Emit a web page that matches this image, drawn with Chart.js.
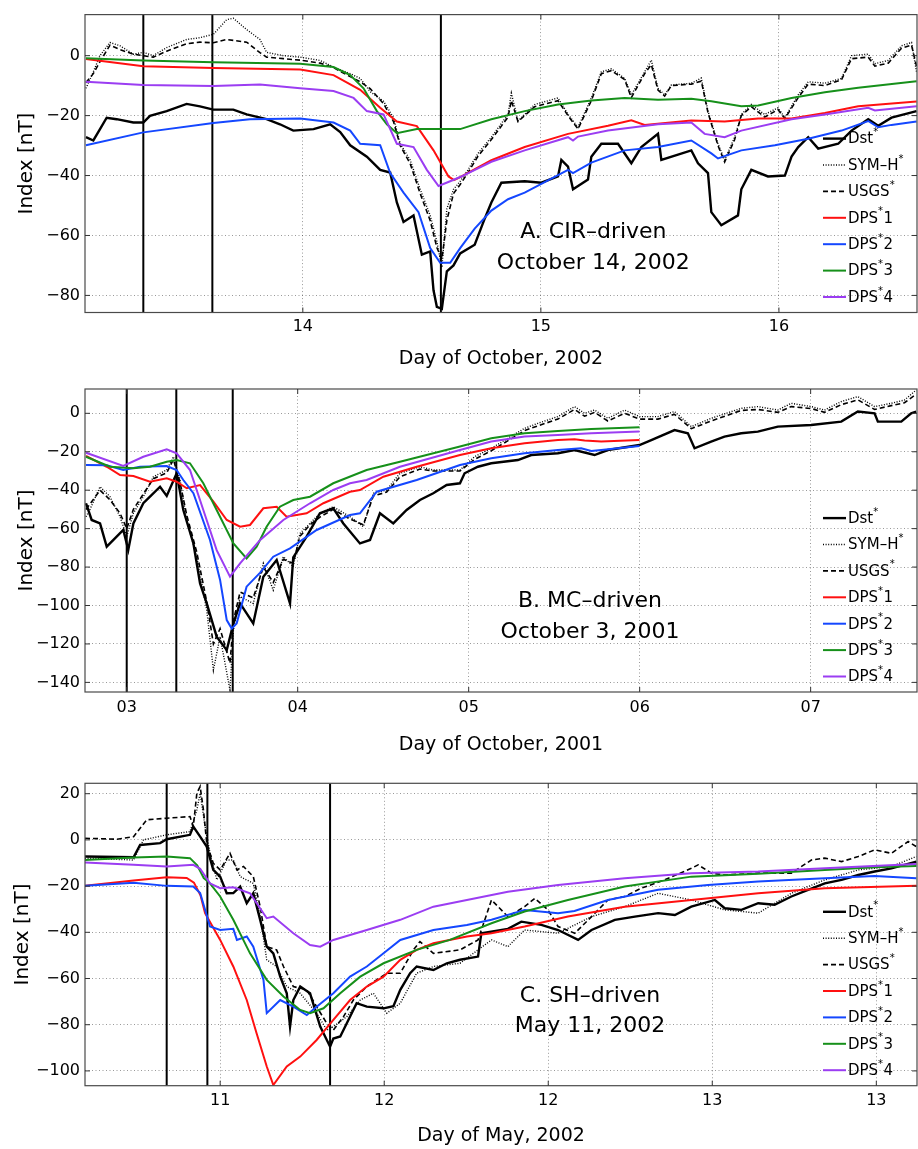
<!DOCTYPE html>
<html>
<head>
<meta charset="utf-8">
<script src="https://cdn.jsdelivr.net/npm/chart.js@4.4.1/dist/chart.umd.min.js"></script>
<style>
  html, body { margin: 0; padding: 0; background: #fff; }
  #wrap { position: relative; width: 918px; height: 1149px; }
  canvas { position: absolute; left: 0; }
</style>
</head>
<body>
<div id="wrap">
  <canvas id="panelA" width="918" height="370" style="top:0px"></canvas>
  <canvas id="panelB" width="918" height="390" style="top:370px"></canvas>
  <canvas id="panelC" width="918" height="389" style="top:760px"></canvas>
</div>
<script>
// ---- Series names (legend order) ----
const seriesNames = ['Dst*', 'SYM–H*', 'USGS*', 'DPS*1', 'DPS*2', 'DPS*3', 'DPS*4'];

// ---- Panel A: CIR-driven storm, October 14, 2002 ([day, nT]) ----
const dstA = [[13.089,-27.2],[13.12,-28.3],[13.148,-24.5],[13.176,-20.7],[13.218,-21.2],[13.288,-22.3],[13.33,-22.3],[13.358,-20.1],[13.428,-18.5],[13.512,-16.1],[13.568,-16.9],[13.624,-18],[13.708,-18],[13.764,-19.6],[13.848,-21.2],[13.904,-22.9],[13.96,-25],[14.045,-24.5],[14.115,-22.9],[14.157,-25.5],[14.199,-29.9],[14.269,-33.7],[14.325,-38.1],[14.367,-39],[14.395,-49],[14.423,-55.5],[14.465,-53.3],[14.5,-66.4],[14.535,-65.3],[14.549,-78.3],[14.563,-83.8],[14.584,-84.5],[14.605,-72],[14.633,-70],[14.661,-66],[14.722,-63.1],[14.764,-54.4],[14.792,-49],[14.834,-42.4],[14.932,-41.9],[15.002,-42.4],[15.072,-40.3],[15.086,-34.8],[15.114,-37],[15.135,-44.6],[15.198,-41.3],[15.212,-33.7],[15.254,-29.4],[15.324,-29.4],[15.38,-35.9],[15.422,-30.5],[15.492,-26.1],[15.506,-34.8],[15.632,-31.6],[15.66,-35.9],[15.702,-39.2],[15.716,-52.2],[15.758,-56.6],[15.828,-53.3],[15.842,-44.6],[15.884,-38.1],[15.954,-40.3],[16.025,-40],[16.053,-33.7],[16.081,-30.5],[16.123,-27.2],[16.165,-31],[16.249,-29.4],[16.305,-25],[16.375,-21.2],[16.417,-23.4],[16.473,-20.7],[16.578,-18.5]];
const symhA = [[13.089,-10.9],[13.12,-5.4],[13.148,0],[13.19,4.4],[13.232,3.3],[13.288,0.5],[13.33,1.1],[13.372,0],[13.428,2.7],[13.512,5.4],[13.568,6],[13.624,7.1],[13.68,12],[13.708,12.5],[13.764,8.7],[13.82,5.4],[13.848,1.1],[13.918,0],[13.989,-0.5],[14.073,-1.6],[14.129,-3.8],[14.199,-6],[14.241,-7.6],[14.283,-12],[14.339,-15.2],[14.381,-20.7],[14.409,-29.4],[14.451,-34.8],[14.493,-44.6],[14.535,-53.3],[14.563,-62],[14.584,-70.7],[14.605,-51.1],[14.633,-44.6],[14.661,-41.9],[14.694,-38.1],[14.736,-32.6],[14.792,-27.2],[14.862,-19.6],[14.876,-12.5],[14.904,-21.8],[14.974,-16.3],[15.072,-14.1],[15.114,-19.6],[15.156,-23.9],[15.212,-14.1],[15.254,-5.4],[15.296,-4.4],[15.352,-7.6],[15.38,-13.1],[15.436,-5.4],[15.464,-1.5],[15.492,-10.9],[15.52,-13.1],[15.548,-9.8],[15.632,-9.2],[15.674,-7.5],[15.702,-18.5],[15.744,-29.4],[15.772,-34.8],[15.814,-27.2],[15.842,-19.6],[15.884,-16.3],[15.94,-19.6],[15.996,-17.4],[16.025,-20.7],[16.081,-13.1],[16.123,-8.7],[16.193,-9.2],[16.263,-7.6],[16.305,0],[16.375,0.5],[16.403,-2.7],[16.459,-1.6],[16.515,3.3],[16.557,4.4],[16.578,-5.4]];
const usgsA = [[13.089,-9],[13.12,-6],[13.148,-2],[13.19,3.5],[13.232,2],[13.288,0.5],[13.33,0],[13.372,-0.5],[13.428,1.5],[13.512,4],[13.568,4.5],[13.624,4.3],[13.68,5.4],[13.764,4.5],[13.82,1],[13.848,-0.5],[13.918,-1],[13.989,-1.5],[14.073,-2.5],[14.129,-4],[14.199,-7],[14.241,-8.7],[14.283,-11],[14.339,-16],[14.381,-22],[14.409,-30],[14.451,-36],[14.493,-46],[14.535,-55],[14.563,-64],[14.584,-68],[14.605,-55],[14.633,-46],[14.661,-43],[14.694,-39],[14.736,-33.5],[14.792,-28],[14.862,-20.5],[14.876,-15],[14.904,-22],[14.974,-17],[15.072,-15],[15.114,-20],[15.156,-24.5],[15.212,-15],[15.254,-6],[15.296,-5],[15.352,-8],[15.38,-14],[15.436,-6],[15.464,-3],[15.492,-11.5],[15.52,-13.5],[15.548,-10],[15.632,-9.5],[15.674,-8.5],[15.702,-19],[15.744,-30],[15.772,-35.5],[15.814,-28],[15.842,-20],[15.884,-17],[15.94,-20.5],[15.996,-18],[16.025,-21],[16.081,-14],[16.123,-9.5],[16.193,-10],[16.263,-8],[16.305,-1],[16.375,-0.5],[16.403,-3.5],[16.459,-2.5],[16.515,2.5],[16.557,3.5],[16.578,-3.5]];
const dps1A = [[13.089,-1.1],[13.33,-3.5],[13.624,-4.1],[13.989,-4.6],[14.129,-6.5],[14.241,-11.4],[14.325,-17.4],[14.395,-22],[14.479,-23.5],[14.549,-31.6],[14.612,-40.3],[14.635,-41.5],[14.661,-40.5],[14.792,-34.9],[14.932,-30.5],[15.114,-26.1],[15.282,-23.4],[15.38,-21.6],[15.436,-23.1],[15.632,-21.6],[15.772,-22],[15.913,-21],[16.053,-21],[16.193,-19.1],[16.333,-16.9],[16.578,-15.3]];
const dps2A = [[13.089,-29.9],[13.33,-25.6],[13.624,-22.5],[13.778,-21.2],[13.989,-21],[14.129,-22.3],[14.199,-25],[14.241,-29.4],[14.325,-29.9],[14.367,-39.2],[14.423,-45.7],[14.486,-52.2],[14.535,-64.2],[14.577,-69.1],[14.619,-69.1],[14.661,-64.2],[14.722,-57.7],[14.792,-51.7],[14.862,-47.9],[14.932,-45.7],[15.114,-38.1],[15.135,-39.2],[15.212,-35.7],[15.352,-31.6],[15.492,-30.5],[15.632,-28.3],[15.716,-32.6],[15.744,-34.3],[15.842,-31.6],[15.983,-29.9],[16.123,-27.7],[16.263,-25],[16.375,-21.8],[16.417,-23.9],[16.473,-23.1],[16.578,-22]];
const dps3A = [[13.089,-0.9],[13.33,-1.6],[13.624,-2.2],[13.989,-2.7],[14.129,-3.8],[14.199,-6.5],[14.255,-10.9],[14.311,-18.5],[14.353,-22.9],[14.395,-25.9],[14.479,-24.5],[14.661,-24.5],[14.792,-21.2],[14.932,-18.5],[15.072,-16.3],[15.212,-15],[15.352,-14.1],[15.492,-14.7],[15.632,-14.4],[15.716,-15.2],[15.842,-16.9],[15.913,-16.6],[16.053,-14.1],[16.193,-12.2],[16.333,-10.7],[16.578,-8.5]];
const dps4A = [[13.089,-8.7],[13.33,-9.8],[13.624,-10.1],[13.82,-9.6],[13.989,-10.9],[14.129,-11.8],[14.213,-14.1],[14.269,-18.5],[14.339,-19.6],[14.395,-29.4],[14.465,-30.5],[14.521,-38.1],[14.57,-43.5],[14.619,-41.9],[14.661,-40.5],[14.792,-35.4],[14.932,-31.6],[15.114,-27.2],[15.135,-28.3],[15.156,-27],[15.282,-25],[15.492,-22.9],[15.632,-22.3],[15.688,-26.1],[15.772,-27.2],[15.842,-25],[16.053,-21.2],[16.193,-19.6],[16.375,-17.4],[16.403,-18.3],[16.578,-16.9]];
const eventsA = [13.33, 13.62, 14.58];
const xTicksA = [14, 15, 16];
const xTickLabelsA = ['14', '15', '16'];
const yTicksA = [-80, -60, -40, -20, 0];

// ---- Panel B: MC-driven storm, October 3, 2001 ----
const dstB = [[2.762,-46.8],[2.795,-55.5],[2.844,-57.3],[2.883,-69.4],[2.941,-64.2],[2.98,-60.7],[3.009,-71.1],[3.039,-57.3],[3.097,-46.8],[3.136,-43.4],[3.195,-38.2],[3.234,-43],[3.292,-31.2],[3.331,-50.3],[3.39,-67.7],[3.429,-88.5],[3.468,-98.9],[3.526,-116.2],[3.585,-123.2],[3.624,-109.3],[3.663,-98.9],[3.74,-109.3],[3.799,-85],[3.877,-76.3],[3.955,-98.9],[3.974,-75],[4.052,-64.2],[4.13,-52],[4.208,-49.4],[4.267,-57.3],[4.364,-67.7],[4.423,-65.9],[4.481,-52],[4.559,-57.3],[4.637,-50.3],[4.715,-45.1],[4.793,-41.6],[4.871,-37.3],[4.949,-36.4],[4.976,-31.2],[5.054,-27.8],[5.132,-26],[5.288,-24.3],[5.366,-21.7],[5.522,-20.8],[5.619,-19.1],[5.736,-21.7],[5.814,-19.1],[5.999,-16.5],[6.068,-13.9],[6.204,-8.7],[6.282,-10.4],[6.321,-18.2],[6.418,-14.7],[6.496,-12.1],[6.594,-10.4],[6.691,-9.5],[6.808,-6.9],[7.003,-6.1],[7.179,-4.3],[7.276,0.9],[7.374,0],[7.393,-4.3],[7.53,-4.3],[7.588,0],[7.617,0.9]];
const symhB = [[2.762,-53.8],[2.785,-50],[2.844,-38.2],[2.902,-43.4],[2.961,-53.8],[3,-64.2],[3.039,-52],[3.097,-43.4],[3.156,-33],[3.234,-29.5],[3.273,-22.6],[3.312,-34.7],[3.351,-55.5],[3.409,-74.6],[3.468,-102.4],[3.507,-133.6],[3.546,-116.2],[3.604,-144],[3.624,-112.8],[3.663,-95.4],[3.74,-98.9],[3.799,-78.1],[3.857,-92],[3.916,-74.6],[3.974,-79.8],[4.013,-62.5],[4.072,-57.3],[4.13,-52],[4.208,-48.6],[4.306,-53.8],[4.384,-59],[4.442,-41.6],[4.52,-39.9],[4.598,-31.2],[4.715,-27.8],[4.793,-29.5],[4.949,-29.5],[5.034,-22.6],[5.132,-18.2],[5.327,-7.8],[5.405,-5.2],[5.522,-1.7],[5.619,3.5],[5.678,0],[5.736,1.7],[5.814,-2.6],[5.912,1.7],[5.999,-1.7],[6.107,-1.7],[6.204,0.9],[6.302,-6.9],[6.418,-2.6],[6.594,2.6],[6.691,3.5],[6.808,1.7],[6.886,5.2],[7.003,3.5],[7.081,1.7],[7.179,6.1],[7.276,8.7],[7.374,3.5],[7.471,5.2],[7.549,6.9],[7.617,12.1]];
const usgsB = [[2.762,-50],[2.844,-40],[2.902,-45],[2.961,-52],[3,-60],[3.039,-50],[3.097,-42],[3.156,-34],[3.234,-31],[3.273,-24],[3.312,-36],[3.351,-53],[3.409,-72],[3.468,-98],[3.507,-120],[3.546,-112],[3.604,-130],[3.624,-108],[3.663,-93],[3.74,-96],[3.799,-80],[3.857,-88],[3.916,-76],[3.974,-78],[4.013,-64],[4.072,-58],[4.13,-54],[4.208,-50],[4.306,-55],[4.384,-58],[4.442,-43],[4.52,-41],[4.598,-33],[4.715,-29],[4.793,-30],[4.949,-30],[5.034,-24],[5.132,-19.5],[5.327,-9],[5.405,-6.5],[5.522,-3],[5.619,2],[5.678,-1.5],[5.736,0.5],[5.814,-4],[5.912,0],[5.999,-3],[6.107,-3],[6.204,-0.5],[6.302,-8],[6.418,-4],[6.594,1.5],[6.691,2],[6.808,0.5],[6.886,3.5],[7.003,2.5],[7.081,0.5],[7.179,4.5],[7.276,7],[7.374,2],[7.471,4],[7.549,5.5],[7.617,10]];
const dps1B = [[2.762,-22.2],[2.883,-27.8],[2.961,-32.1],[3.039,-32.6],[3.136,-35.6],[3.234,-33.8],[3.292,-35.6],[3.351,-39],[3.429,-37.3],[3.507,-46],[3.585,-55.5],[3.663,-59],[3.721,-58.1],[3.799,-49.4],[3.877,-48.6],[3.935,-53.8],[4.052,-52],[4.15,-46.8],[4.306,-40.8],[4.364,-39.9],[4.501,-33],[4.696,-27.8],[4.949,-21.7],[5.132,-18.2],[5.327,-15.6],[5.522,-13.9],[5.619,-13.5],[5.678,-14.2],[5.775,-14.7],[5.999,-13.9]];
const dps2B = [[2.762,-26.9],[2.883,-27],[2.98,-29.5],[3.078,-27.8],[3.234,-27.4],[3.292,-29.5],[3.331,-34.7],[3.39,-41.6],[3.487,-65.9],[3.546,-86.7],[3.585,-107.6],[3.614,-112],[3.643,-109.3],[3.701,-90.2],[3.779,-83],[3.857,-74.6],[3.955,-70.3],[4.111,-60.7],[4.306,-52.9],[4.364,-52],[4.462,-40.8],[4.696,-34.7],[4.949,-26.9],[5.132,-23.4],[5.327,-20.8],[5.522,-19.1],[5.658,-18.2],[5.717,-19.6],[5.775,-19.1],[5.999,-17]];
const dps3B = [[2.762,-22.6],[2.902,-27.8],[3.039,-28.6],[3.136,-27.8],[3.234,-25.2],[3.292,-24.3],[3.37,-26],[3.448,-36.4],[3.526,-50.3],[3.624,-67.7],[3.701,-75.5],[3.76,-69.4],[3.818,-59],[3.896,-48.6],[3.974,-45.1],[4.072,-43.4],[4.208,-36.4],[4.403,-29.5],[4.598,-25.2],[4.949,-17.3],[5.132,-13],[5.327,-10.4],[5.522,-9.2],[5.717,-8.2],[5.999,-7.3]];
const dps4B = [[2.762,-20.5],[2.98,-27.4],[3.097,-22.6],[3.234,-18.7],[3.292,-20.8],[3.37,-29.5],[3.448,-50.3],[3.526,-71.2],[3.604,-85],[3.663,-78.1],[3.779,-66],[3.916,-55.5],[4.072,-46.8],[4.208,-39.9],[4.306,-36.4],[4.403,-34.7],[4.598,-27.8],[4.949,-19.1],[5.132,-14.7],[5.327,-12.1],[5.522,-11.3],[5.717,-10.4],[5.999,-9.5]];
const eventsB = [3.0, 3.29, 3.62];
const xTicksB = [3, 4, 5, 6, 7];
const xTickLabelsB = ['03', '04', '05', '06', '07'];
const yTicksB = [-140, -120, -100, -80, -60, -40, -20, 0];

// ---- Panel C: SH-driven storm, May 11, 2002 ----
const dstC = [[11.088,-7.2],[11.236,-7.5],[11.256,-2.2],[11.317,-1.4],[11.337,0.3],[11.408,2.2],[11.418,5.8],[11.439,1.4],[11.459,-2.9],[11.479,-13],[11.5,-15.9],[11.52,-23.1],[11.54,-23],[11.561,-20.2],[11.581,-27.4],[11.601,-23.1],[11.622,-34.6],[11.642,-46.2],[11.662,-49.1],[11.683,-59.2],[11.703,-66.4],[11.713,-80.8],[11.723,-69.3],[11.744,-63.5],[11.774,-66.4],[11.805,-80.8],[11.835,-89.5],[11.845,-86],[11.866,-85.1],[11.886,-79.4],[11.916,-70.7],[11.947,-72.2],[11.998,-72.9],[12.028,-72],[12.049,-64.9],[12.079,-57.7],[12.099,-54.8],[12.15,-56.3],[12.191,-53.4],[12.231,-51.9],[12.286,-50.5],[12.296,-40.4],[12.377,-38.5],[12.418,-35.4],[12.479,-36.8],[12.53,-39],[12.591,-43.3],[12.632,-39],[12.703,-34.6],[12.764,-33.2],[12.835,-31.7],[12.886,-32.5],[12.936,-28.9],[13.008,-26],[13.038,-29.6],[13.089,-30.3],[13.14,-27.4],[13.19,-28.1],[13.241,-24.5],[13.292,-21.6],[13.343,-18.8],[13.394,-17.3],[13.445,-15.2],[13.495,-13.7],[13.546,-12.3],[13.622,-9.4]];
const symhC = [[11.088,-7.9],[11.236,-8.7],[11.266,0],[11.337,2.2],[11.408,3.6],[11.429,13],[11.439,20.2],[11.454,5.8],[11.469,-5.8],[11.49,-17.3],[11.52,-8.7],[11.54,-8.7],[11.561,-15.9],[11.601,-18.8],[11.622,-33.2],[11.642,-51.9],[11.672,-54.8],[11.703,-63.5],[11.744,-66.4],[11.794,-75],[11.825,-82.3],[11.845,-80.8],[11.886,-76.5],[11.927,-69.3],[11.967,-66.4],[12.008,-75],[12.049,-70.7],[12.099,-57.7],[12.15,-54.8],[12.231,-53.4],[12.327,-43.3],[12.377,-46.2],[12.428,-39],[12.53,-40.4],[12.632,-33.2],[12.733,-28.9],[12.835,-23.1],[12.936,-26],[13.038,-30.3],[13.14,-31.7],[13.241,-23.1],[13.343,-17.3],[13.445,-13],[13.546,-11.5],[13.622,-7.2]];
const usgsC = [[11.088,0.7],[11.185,0.3],[11.236,1.4],[11.276,8.7],[11.337,9.4],[11.408,10.1],[11.418,5.8],[11.429,20.2],[11.439,23.1],[11.449,13],[11.459,-1.4],[11.479,-10.1],[11.5,-13],[11.53,-5.8],[11.551,-13],[11.571,-11.5],[11.601,-15.9],[11.622,-28.9],[11.642,-46.2],[11.672,-47.6],[11.693,-54.8],[11.723,-63.5],[11.764,-64.9],[11.794,-72.2],[11.825,-79.4],[11.845,-82.3],[11.876,-76.5],[11.906,-69.3],[11.947,-63.5],[11.977,-60.6],[12.008,-57.7],[12.049,-57.7],[12.089,-47.6],[12.109,-44],[12.15,-49.1],[12.231,-47.6],[12.286,-43.3],[12.327,-26],[12.377,-33.2],[12.428,-28.9],[12.459,-25.3],[12.499,-30.3],[12.53,-37.5],[12.581,-40.4],[12.632,-33.2],[12.682,-26],[12.733,-24.5],[12.784,-20.9],[12.855,-17.3],[12.936,-12.3],[12.957,-10.8],[12.997,-14.4],[13.038,-15.2],[13.14,-14.4],[13.241,-14.4],[13.302,-8.7],[13.343,-7.9],[13.394,-9.4],[13.445,-7.2],[13.495,-4.3],[13.546,-5.8],[13.597,-0.7],[13.622,-2.9]];
const dps1C = [[11.088,-19.9],[11.236,-17.6],[11.337,-16.2],[11.398,-16.5],[11.42,-18.5],[11.44,-24],[11.454,-31.7],[11.5,-43.3],[11.54,-54.8],[11.581,-69.3],[11.611,-83.7],[11.642,-98.1],[11.662,-106.1],[11.703,-98.1],[11.744,-93.8],[11.794,-86.6],[11.845,-77.9],[11.896,-69.3],[11.947,-63.5],[11.998,-59.2],[12.049,-51.9],[12.099,-47.6],[12.15,-44.7],[12.252,-41.8],[12.327,-40.4],[12.428,-37.5],[12.56,-33.2],[12.733,-28.9],[12.936,-26],[13.14,-23.1],[13.343,-20.9],[13.622,-19.9]];
const dps2C = [[11.088,-19.9],[11.236,-18.5],[11.337,-19.9],[11.418,-20.2],[11.439,-23],[11.469,-37.5],[11.5,-39],[11.54,-38.5],[11.551,-43.3],[11.581,-41.8],[11.601,-46.2],[11.632,-60.6],[11.642,-75],[11.683,-69.3],[11.723,-72.2],[11.764,-75.8],[11.794,-72.2],[11.845,-66.4],[11.896,-59.2],[11.947,-54.8],[11.998,-49.1],[12.049,-43.3],[12.15,-39],[12.252,-36.8],[12.327,-34.6],[12.428,-30.3],[12.53,-31.7],[12.58,-30.8],[12.682,-26],[12.835,-21.6],[12.987,-19.5],[13.14,-18],[13.343,-16.6],[13.495,-15.6],[13.622,-16.6]];
const dps3C = [[11.088,-8.7],[11.236,-7.6],[11.337,-7.2],[11.408,-7.9],[11.43,-11],[11.45,-16.5],[11.469,-18.8],[11.5,-24.5],[11.54,-34.6],[11.591,-49.1],[11.642,-60.6],[11.693,-67.8],[11.744,-73.6],[11.774,-75],[11.815,-72.9],[11.866,-66.4],[11.927,-59.2],[11.998,-53.4],[12.099,-47.6],[12.2,-43.3],[12.327,-36.1],[12.428,-31],[12.56,-26],[12.733,-20.2],[12.936,-15.9],[13.14,-14.7],[13.343,-13],[13.495,-11.8],[13.622,-11.3]];
const dps4C = [[11.088,-9.8],[11.236,-10.8],[11.337,-11.5],[11.418,-10.8],[11.439,-12.5],[11.469,-18.8],[11.5,-20.9],[11.54,-20.5],[11.591,-23.1],[11.642,-33.9],[11.662,-33.2],[11.723,-40.4],[11.774,-45.5],[11.805,-46.2],[11.845,-43.3],[11.947,-39],[12.049,-34.6],[12.15,-28.9],[12.252,-26],[12.377,-22.4],[12.53,-19.5],[12.733,-16.6],[12.936,-14.4],[13.14,-13.7],[13.343,-12.3],[13.622,-10.4]];
const eventsC = [11.337, 11.461, 11.835];
const xTicksC = [11.5, 12, 12.5, 13, 13.5];
const xTickLabelsC = ['11', '12', '12', '13', '13'];
const yTicksC = [-100, -80, -60, -40, -20, 0, 20];

// ---- Line styles for the seven series ----
const lineStyles = [
  { color: '#000000', width: 2.4, dash: [] },
  { color: '#000000', width: 1.4, dash: [1, 1.6] },
  { color: '#000000', width: 1.6, dash: [5, 3] },
  { color: '#ff1010', width: 2, dash: [] },
  { color: '#1447ff', width: 2, dash: [] },
  { color: '#16901a', width: 2, dash: [] },
  { color: '#9b3df2', width: 2, dash: [] }
];

Chart.defaults.font.family = '"DejaVu Sans", "Liberation Sans", sans-serif';
Chart.defaults.color = '#000';

const fmtY = v => (v < 0 ? '\u2212' + (-v) : String(v));

// Box, inward ticks, event markers, legend and caption, drawn with the chart's own scales
const panelDecor = {
  id: 'panelDecor',
  beforeDatasetsDraw(chart, args, o) {
    const { ctx, chartArea: a, scales: { x } } = chart;
    ctx.save();
    ctx.beginPath();
    ctx.rect(a.left, a.top, a.right - a.left, a.bottom - a.top);
    ctx.clip();
    ctx.strokeStyle = '#000';
    ctx.lineWidth = 2;
    ctx.setLineDash([]);
    for (const d of o.events) {
      const px = x.getPixelForValue(d);
      ctx.beginPath();
      ctx.moveTo(px, a.top);
      ctx.lineTo(px, a.bottom);
      ctx.stroke();
    }
    ctx.restore();
  },
  afterDatasetsDraw(chart, args, o) {
    const { ctx, chartArea: a, scales: { x, y } } = chart;
    ctx.save();
    ctx.setLineDash([]);
    // axes box
    ctx.strokeStyle = '#4a4a4a';
    ctx.lineWidth = 1.2;
    ctx.strokeRect(a.left, a.top, a.right - a.left, a.bottom - a.top);
    // inward tick marks on all four sides
    ctx.strokeStyle = '#333';
    ctx.lineWidth = 1;
    ctx.beginPath();
    for (const t of x.ticks) {
      const px = x.getPixelForValue(t.value);
      ctx.moveTo(px, a.bottom); ctx.lineTo(px, a.bottom - 5);
      ctx.moveTo(px, a.top); ctx.lineTo(px, a.top + 5);
    }
    for (const t of y.ticks) {
      const py = y.getPixelForValue(t.value);
      ctx.moveTo(a.left, py); ctx.lineTo(a.left + 5, py);
      ctx.moveTo(a.right, py); ctx.lineTo(a.right - 5, py);
    }
    ctx.stroke();

    // legend with superscript asterisks
    const n = chart.data.datasets.length;
    chart.data.datasets.forEach((ds, i) => {
      const ry = a.bottom - 15.5 - (n - 1 - i) * 26.4;
      ctx.strokeStyle = ds.borderColor;
      ctx.lineWidth = Math.max(ds.borderWidth, 1.2);
      ctx.setLineDash(ds.borderDash || []);
      ctx.beginPath();
      ctx.moveTo(a.right - 94, ry);
      ctx.lineTo(a.right - 71, ry);
      ctx.stroke();
      ctx.setLineDash([]);
      const [base, tail] = ds.label.split('*');
      ctx.fillStyle = '#000';
      ctx.textBaseline = 'middle';
      ctx.textAlign = 'left';
      ctx.font = '15px "DejaVu Sans", sans-serif';
      let tx = a.right - 69;
      ctx.fillText(base, tx, ry + 1);
      tx += ctx.measureText(base).width;
      ctx.font = '10px "DejaVu Sans", sans-serif';
      ctx.fillText('*', tx, ry - 6);
      tx += ctx.measureText('*').width + 0.5;
      ctx.font = '15px "DejaVu Sans", sans-serif';
      if (tail) ctx.fillText(tail, tx, ry + 1);
    });

    // caption
    ctx.fillStyle = '#000';
    ctx.textAlign = 'center';
    ctx.textBaseline = 'middle';
    ctx.font = '22px "DejaVu Sans", sans-serif';
    const cx = a.left + o.note.fx * (a.right - a.left);
    o.note.lines.forEach((line, i) => {
      ctx.fillText(line, cx, a.top + o.note.fy[i] * (a.bottom - a.top));
    });
    ctx.restore();
  }
};

function makePanel(id, p) {
  const series = [p.dst, p.symh, p.usgs, p.dps1, p.dps2, p.dps3, p.dps4];
  const datasets = series.map((pts, i) => ({
    label: seriesNames[i],
    data: pts.map(([xv, yv]) => ({ x: xv, y: yv })),
    borderColor: lineStyles[i].color,
    borderWidth: lineStyles[i].width,
    borderDash: lineStyles[i].dash,
    pointRadius: 0,
    tension: 0,
    fill: false,
    order: series.length - i
  }));
  const gridColor = 'rgba(70,70,70,0.55)';
  return new Chart(document.getElementById(id), {
    type: 'line',
    data: { datasets },
    plugins: [panelDecor],
    options: {
      responsive: false,
      animation: false,
      devicePixelRatio: 1,
      layout: { padding: { top: p.padTop, right: 1, left: 0, bottom: 0 } },
      plugins: {
        legend: { display: false },
        tooltip: { enabled: false },
        panelDecor: { events: p.events, note: p.note }
      },
      scales: {
        x: {
          type: 'linear',
          min: p.xMin, max: p.xMax,
          afterBuildTicks: s => { s.ticks = p.xTicks.map(v => ({ value: v })); },
          afterFit: s => { s.height = p.xAxisH; },
          ticks: {
            autoSkip: false, maxRotation: 0, padding: p.xTickPad,
            font: { size: 16 }, color: '#000',
            callback: v => p.xTickLabels[p.xTicks.indexOf(v)]
          },
          grid: { color: gridColor, lineWidth: 1, drawTicks: false },
          border: { display: false, dash: [1, 2.5] },
          title: {
            display: true, text: p.xTitle, color: '#000',
            font: { size: 19 }, padding: { top: 0, bottom: p.xTitlePad }
          }
        },
        y: {
          type: 'linear',
          min: p.yMin, max: p.yMax,
          afterBuildTicks: s => { s.ticks = p.yTicks.map(v => ({ value: v })); },
          afterFit: s => { s.width = 85; },
          ticks: {
            autoSkip: false, padding: 5,
            font: { size: 16 }, color: '#000',
            callback: v => fmtY(v)
          },
          grid: { color: gridColor, lineWidth: 1, drawTicks: false },
          border: { display: false, dash: [1, 2.5] },
          title: {
            display: true, text: 'Index [nT]', color: '#000',
            font: { size: 20 }, padding: { top: p.yTitlePad, bottom: 0 }
          }
        }
      }
    }
  });
}

makePanel('panelA', {
  dst: dstA, symh: symhA, usgs: usgsA, dps1: dps1A, dps2: dps2A, dps3: dps3A, dps4: dps4A,
  events: eventsA, xTicks: xTicksA, xTickLabels: xTickLabelsA, yTicks: yTicksA,
  xMin: 13.085, xMax: 16.58, yMin: -85.7, yMax: 13.7,
  padTop: 8, xAxisH: 57.5, xTickPad: 5, xTitlePad: 0, yTitlePad: 15,
  xTitle: 'Day of October, 2002',
  note: { lines: ['A. CIR–driven', 'October 14, 2002'], fx: 0.611, fy: [0.732, 0.834] }
});

makePanel('panelB', {
  dst: dstB, symh: symhB, usgs: usgsB, dps1: dps1B, dps2: dps2B, dps3: dps3B, dps4: dps4B,
  events: eventsB, xTicks: xTicksB, xTickLabels: xTickLabelsB, yTicks: yTicksB,
  xMin: 2.756, xMax: 7.622, yMin: -145, yMax: 12.65,
  padTop: 19, xAxisH: 68, xTickPad: 6, xTitlePad: 4, yTitlePad: 15,
  xTitle: 'Day of October, 2001',
  note: { lines: ['B. MC–driven', 'October 3, 2001'], fx: 0.607, fy: [0.700, 0.802] }
});

makePanel('panelC', {
  dst: dstC, symh: symhC, usgs: usgsC, dps1: dps1C, dps2: dps2C, dps3: dps3C, dps4: dps4C,
  events: eventsC, xTicks: xTicksC, xTickLabels: xTickLabelsC, yTicks: yTicksC,
  xMin: 11.088, xMax: 13.624, yMin: -106.4, yMax: 24.5,
  padTop: 23.3, xAxisH: 63.3, xTickPad: 6, xTitlePad: 2, yTitlePad: 11,
  xTitle: 'Day of May, 2002',
  note: { lines: ['C. SH–driven', 'May 11, 2002'], fx: 0.607, fy: [0.703, 0.802] }
});
</script>
</body>
</html>
